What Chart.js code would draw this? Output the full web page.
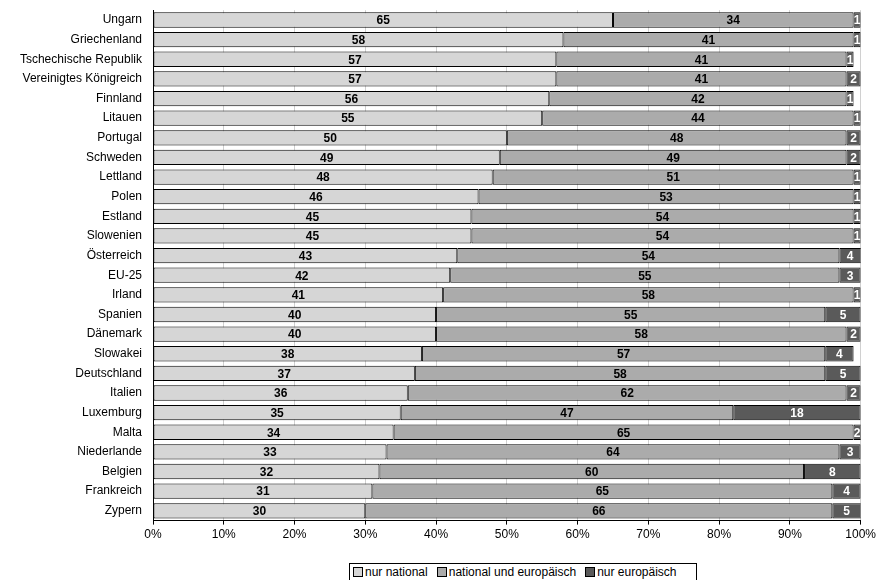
<!DOCTYPE html>
<html>
<head>
<meta charset="utf-8">
<script src="https://cdn.jsdelivr.net/npm/chart.js@4/dist/chart.umd.min.js"></script>
<style>
  body { margin: 0; background: #fff; }
  #wrap { position: relative; width: 879px; height: 580px; }
  #legend { position: absolute; left: 349px; top: 563px; width: 340px; height: 16px; border: 1px solid #000; padding: 0 3px;
    font: 12px "Liberation Sans", Arial, sans-serif; line-height: 16px; white-space: nowrap; background: #fff; }
  #legend span.box { display: inline-block; width: 8px; height: 8px; border: 1px solid #000; margin: 0 2px 0 0; vertical-align: -1px; }
  #legend span.item { margin-right: 9px; }
</style>
</head>
<body>
<div id="wrap">
  <canvas id="chart" width="879" height="580"></canvas>
  <div id="legend"></div>
</div>
<script>
const countries = ['Ungarn', 'Griechenland', 'Tschechische Republik', 'Vereinigtes Königreich', 'Finnland', 'Litauen',
  'Portugal', 'Schweden', 'Lettland', 'Polen', 'Estland', 'Slowenien', 'Österreich', 'EU-25', 'Irland', 'Spanien',
  'Dänemark', 'Slowakei', 'Deutschland', 'Italien', 'Luxemburg', 'Malta', 'Niederlande', 'Belgien', 'Frankreich', 'Zypern'];
const nurNational = [65, 58, 57, 57, 56, 55, 50, 49, 48, 46, 45, 45, 43, 42, 41, 40, 40, 38, 37, 36, 35, 34, 33, 32, 31, 30];
const nationalEuropaeisch = [34, 41, 41, 41, 42, 44, 48, 49, 51, 53, 54, 54, 54, 55, 58, 55, 58, 57, 58, 62, 47, 65, 64, 60, 65, 66];
const nurEuropaeisch = [1, 1, 1, 2, 1, 1, 2, 2, 1, 1, 1, 1, 4, 3, 1, 5, 2, 4, 5, 2, 18, 2, 3, 8, 4, 5];
const seriesNames = ['nur national', 'national und europäisch', 'nur europäisch'];
const colors = ['#d6d6d6', '#ababab', '#5a5a5a'];
const labelColors = ['#000', '#000', '#fff'];

const valueLabels = {
  id: 'valueLabels',
  afterDatasetsDraw(chart) {
    const ctx = chart.ctx;
    ctx.save();
    ctx.font = 'bold 12px "Liberation Sans", Arial, sans-serif';
    ctx.textAlign = 'center';
    ctx.textBaseline = 'middle';
    chart.data.datasets.forEach((ds, i) => {
      chart.getDatasetMeta(i).data.forEach((bar, j) => {
        const right = Math.min(bar.x, chart.chartArea.right);
        const left = Math.min(bar.base, chart.chartArea.right);
        ctx.fillStyle = labelColors[i];
        ctx.fillText(ds.data[j], (left + right) / 2, bar.y + 1);
      });
    });
    ctx.restore();
  }
};

new Chart(document.getElementById('chart'), {
  type: 'bar',
  data: {
    labels: countries,
    datasets: [nurNational, nationalEuropaeisch, nurEuropaeisch].map((d, i) => ({
      label: seriesNames[i],
      data: d,
      backgroundColor: colors[i],
      borderColor: '#000',
      borderWidth: 1,
      borderSkipped: false,
      barPercentage: 0.78,
      categoryPercentage: 1
    }))
  },
  options: {
    indexAxis: 'y',
    responsive: false,
    animation: false,
    layout: { padding: { left: 0, right: 11, top: 10, bottom: 35 } },
    plugins: { legend: { display: false }, tooltip: { enabled: false } },
    scales: {
      x: {
        stacked: true, min: 0, max: 100,
        ticks: { stepSize: 10, callback: v => v + '%', color: '#000', font: { family: '"Liberation Sans", Arial', size: 12 } },
        grid: { color: '#d0d0d0', drawTicks: true, tickLength: 4, tickColor: '#000' },
        border: { color: '#000' }
      },
      y: {
        stacked: true,
        afterFit(s) { s.width = 153; },
        ticks: { color: '#000', font: { family: '"Liberation Sans", Arial', size: 12 } },
        grid: { display: false },
        border: { color: '#000' }
      }
    }
  },
  plugins: [valueLabels]
});

document.getElementById('legend').innerHTML = seriesNames.map((n, i) =>
  '<span class="item"><span class="box" style="background:' + colors[i] + '"></span>' + n + '</span>').join('');
</script>
</body>
</html>
